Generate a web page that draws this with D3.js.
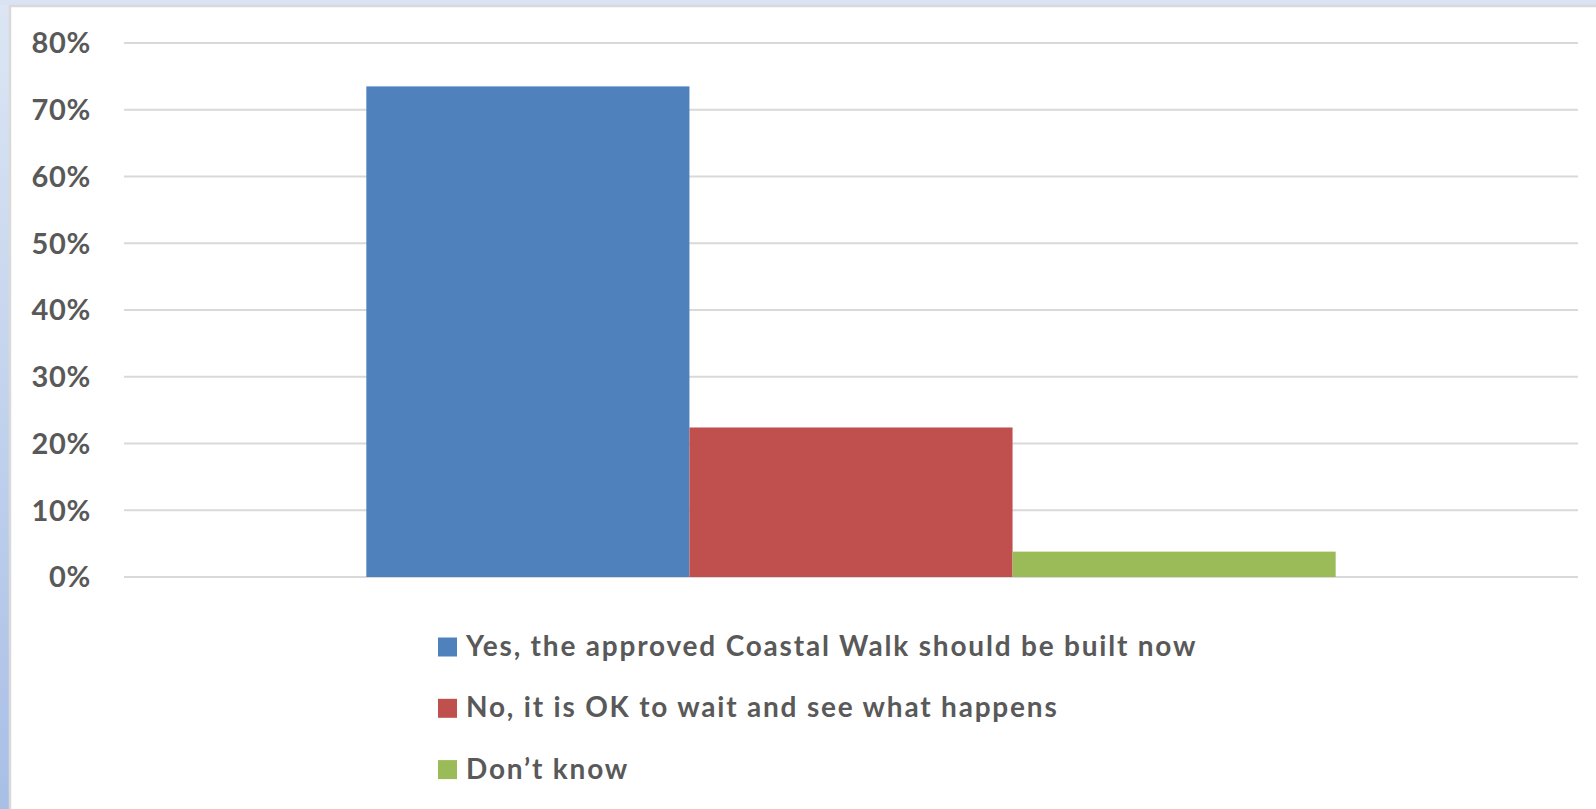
<!DOCTYPE html>
<html>
<head>
<meta charset="utf-8">
<script src="https://cdn.jsdelivr.net/npm/d3@7"></script>
<style>
  body { margin: 0; background: #fff; }
  svg { display: block; }
  text { font-family: Lato, Calibri, "Liberation Sans", sans-serif; font-weight: bold; fill: #595959; }
</style>
</head>
<body>
<div id="chart"></div>
<script>
// chart data
var category = ["Q"];
var series = ["Yes, the approved Coastal Walk should be built now",
              "No, it is OK to wait and see what happens",
              "Don\u2019t know"];
var values = [0.735, 0.224, 0.038];
var colors = ["#4F81BD", "#C0504D", "#9BBB59"];
var yTicks = [0, 0.1, 0.2, 0.3, 0.4, 0.5, 0.6, 0.7, 0.8];

// set the dimensions
var W = 1596, H = 809;
var margin = {top: 43, right: 18, bottom: 232, left: 124}
  , width = W - margin.left - margin.right
  , height = H - margin.top - margin.bottom;

var svg = d3.select("#chart").append("svg")
    .attr("width", W)
    .attr("height", H);

// window frame: blue gradient strips on left and top
var grad = svg.append("defs").append("linearGradient")
    .attr("id", "frame")
    .attr("x1", 0).attr("y1", 0).attr("x2", 0).attr("y2", 1);
grad.append("stop").attr("offset", "0%").attr("stop-color", "#dce6f4");
grad.append("stop").attr("offset", "100%").attr("stop-color", "#a8bfe6");

svg.append("rect")
    .attr("width", W).attr("height", H)
    .attr("fill", "url(#frame)");
svg.append("rect")
    .attr("x", 0).attr("y", 0).attr("width", W).attr("height", 5)
    .attr("fill", "#dae3f3");
svg.append("rect")
    .attr("x", 10).attr("y", 6).attr("width", W).attr("height", H)
    .attr("fill", "#fff")
    .attr("stroke", "#d9d9d9")
    .attr("stroke-width", 2.5);

var g = svg.append("g")
    .attr("transform", "translate(" + margin.left + "," + margin.top + ")");

// scales
var x0 = d3.scaleBand()
    .domain(category)
    .range([0, width])
    .paddingInner(0)
    .paddingOuter(0.25);

var x1 = d3.scaleBand()
    .domain(series)
    .range([0, x0.bandwidth()])
    .padding(0);

var y = d3.scaleLinear()
    .domain([0, 0.8])
    .range([height, 0]);

// gridlines
g.append("g")
    .selectAll("line")
    .data(yTicks)
    .enter().append("line")
      .attr("x1", 0)
      .attr("x2", width)
      .attr("y1", function(d) { return y(d); })
      .attr("y2", function(d) { return y(d); })
      .attr("stroke", "#d9d9d9")
      .attr("stroke-width", 2);

// y labels
g.append("g")
    .selectAll("text")
    .data(yTicks)
    .enter().append("text")
      .attr("x", -33)
      .attr("y", function(d) { return y(d); })
      .attr("dy", "0.36em")
      .attr("text-anchor", "end")
      .style("font-size", "29px")
      .style("letter-spacing", "0.7px")
      .text(d3.format(".0%"));

// bars
g.append("g")
    .attr("transform", "translate(" + x0(category[0]) + ",0)")
    .selectAll("rect")
    .data(values)
    .enter().append("rect")
      .attr("x", function(d, i) { return x1(series[i]); })
      .attr("width", x1.bandwidth())
      .attr("y", function(d) { return y(d); })
      .attr("height", function(d) { return height - y(d); })
      .attr("fill", function(d, i) { return colors[i]; });

// legend
var legend = svg.append("g")
    .attr("transform", "translate(438,647)");

var item = legend.selectAll("g")
    .data(series)
    .enter().append("g")
      .attr("transform", function(d, i) { return "translate(0," + (i * 61.3) + ")"; });

item.append("rect")
    .attr("x", 0)
    .attr("y", -9.5)
    .attr("width", 19)
    .attr("height", 19)
    .attr("fill", function(d, i) { return colors[i]; });

item.append("text")
    .attr("x", 28)
    .attr("y", 9)
    .style("font-size", "28px")
    .style("letter-spacing", "1.8px")
    .text(function(d) { return d; });
</script>
</body>
</html>
